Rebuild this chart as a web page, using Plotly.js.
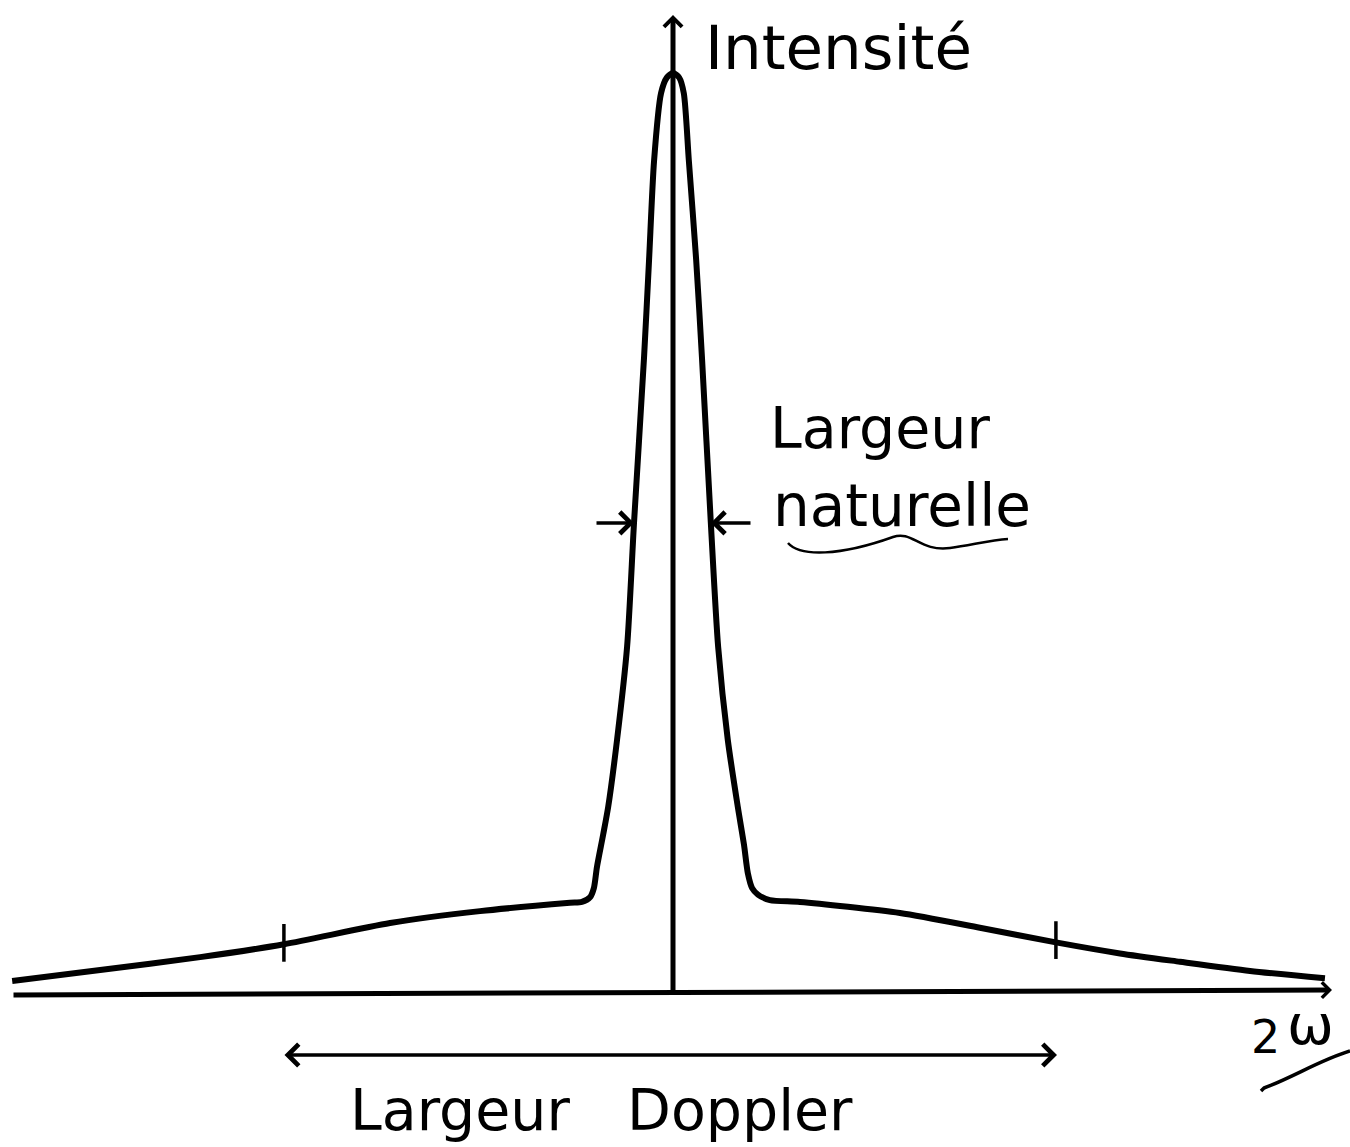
<!DOCTYPE html>
<html>
<head>
<meta charset="utf-8">
<script src="https://cdn.plot.ly/plotly-3.0.1.min.js"></script>
<style>html,body{margin:0;padding:0;background:#fff;}#chart{width:1350px;height:1147px;}</style>
</head>
<body>
<div id="chart"></div>
<script>
// Spectral line profile: frequency offset (units of Doppler half-width) vs normalised intensity
const freq = [-1.712, -1.484, -1.225, -1.008, -0.733, -0.500, -0.267, -0.236, -0.215, -0.205, -0.197, -0.181, -0.168, -0.145, -0.119, -0.101, -0.075, -0.062, -0.049, -0.031, -0.016, 0.000,
              0.016, 0.028, 0.041, 0.060, 0.075, 0.098, 0.117, 0.142, 0.168, 0.184, 0.194, 0.205, 0.220, 0.251, 0.329, 0.588, 0.795, 0.992, 1.158, 1.313, 1.495, 1.689];
const intensity = [0.013, 0.025, 0.039, 0.053, 0.076, 0.089, 0.098, 0.099, 0.104, 0.114, 0.137, 0.172, 0.202, 0.275, 0.376, 0.511, 0.691, 0.797, 0.905, 0.978, 0.995, 1.000,
                   0.995, 0.978, 0.905, 0.797, 0.691, 0.511, 0.376, 0.275, 0.202, 0.161, 0.130, 0.114, 0.107, 0.101, 0.099, 0.087, 0.071, 0.055, 0.043, 0.034, 0.024, 0.016];
const dopplerTicks = [-1.008, 0.992];        // Doppler width markers on the wings
const dopplerTickLevel = [0.053, 0.056];     // curve level at those markers
const naturalHalfLeft = -0.101, naturalHalfRight = 0.098, halfMax = 0.511; // natural width at half maximum

const labels = {
  yTitle: 'Intensité',
  natural1: 'Largeur',
  natural2: 'naturelle',
  doppler1: 'Largeur',
  doppler2: 'Doppler',
  xTitle2: '2',
  xTitleW: 'ω'
};

// pixel helpers for decorations (page is 1350 x 1147, plot fills page)
const W = 1350, H = 1147;
const X = p => (p - 673) / 386;
const Y = p => (993 - p) / 920;
const PX = p => p / W;
const PY = p => 1 - p / H;

const font = 'DejaVu Sans, Liberation Sans, sans-serif';

const traces = [{
  x: freq, y: intensity, type: 'scatter', mode: 'lines',
  line: {color: '#000', width: 6, shape: 'spline', smoothing: 0.7},
  hoverinfo: 'skip'
}];

const shapes = [];
dopplerTicks.forEach((t, i) => {
  shapes.push({type: 'line', xref: 'x', yref: 'y', x0: t, x1: t,
    y0: dopplerTickLevel[i] - 0.019, y1: dopplerTickLevel[i] + 0.022,
    line: {color: '#000', width: 3.5}});
});
// wavy underline under "naturelle"
shapes.push({type: 'path', xref: 'paper', yref: 'paper',
  path: `M${PX(788)},${PY(543)} C${PX(800)},${PY(557)} ${PX(840)},${PY(556)} ${PX(893)},${PY(537)} C${PX(912)},${PY(530)} ${PX(920)},${PY(552)} ${PX(950)},${PY(548)} C${PX(972)},${PY(545)} ${PX(990)},${PY(540)} ${PX(1008)},${PY(539)}`,
  line: {color: '#000', width: 2.5}});
// stroke under 2ω
shapes.push({type: 'path', xref: 'paper', yref: 'paper',
  path: `M${PX(1261)},${PY(1091)} L${PX(1264)},${PY(1088)} C${PX(1292)},${PY(1078)} ${PX(1320)},${PY(1060)} ${PX(1350)},${PY(1051)}`,
  line: {color: '#000', width: 3.5}});

const arrowBase = {text: '', showarrow: true, xref: 'x', yref: 'y', axref: 'x', ayref: 'y', arrowcolor: '#000', arrowhead: 4};
const annotations = [
  // horizontal axis
  Object.assign({}, arrowBase, {x: X(1332), y: Y(990), ax: X(12), ay: Y(995), arrowwidth: 5, arrowsize: 0.6}),
  // vertical axis
  Object.assign({}, arrowBase, {x: 0, y: Y(15), ax: 0, ay: Y(996), arrowwidth: 5, arrowsize: 0.7}),
  // natural width arrows
  Object.assign({}, arrowBase, {x: naturalHalfLeft, y: halfMax, ax: X(595), ay: halfMax, arrowwidth: 3.5, arrowsize: 1.2}),
  Object.assign({}, arrowBase, {x: naturalHalfRight, y: halfMax, ax: X(752), ay: halfMax, arrowwidth: 3.5, arrowsize: 1.2}),
  // Doppler width double arrow
  Object.assign({}, arrowBase, {x: X(1057), y: Y(1055), ax: X(283), ay: Y(1055), arrowwidth: 3.5, arrowsize: 1.2, arrowside: 'end+start'}),
];

function txt(t, x, y, size, anchor) {
  return {text: t, xref: 'paper', yref: 'paper', x: PX(x), y: PY(y), xanchor: anchor || 'left', yanchor: 'middle',
    showarrow: false, font: {family: font, size: size, color: '#000'}};
}
annotations.push(txt(labels.yTitle, 703, 47, 61));
annotations.push(txt(labels.natural1, 768, 428, 57));
annotations.push(txt(labels.natural2, 771, 506, 58));
annotations.push(txt(labels.doppler1, 460, 1110, 57, 'center'));
annotations.push(txt(labels.doppler2, 740, 1110, 57, 'center'));
annotations.push(txt(labels.xTitle2, 1265, 1037, 46, 'center'));
annotations.push(txt(labels.xTitleW, 1310, 1024, 56, 'center'));

const layout = {
  width: W, height: H,
  margin: {l: 0, r: 0, t: 0, b: 0, pad: 0},
  paper_bgcolor: '#fff', plot_bgcolor: '#fff',
  showlegend: false,
  xaxis: {range: [X(0), X(W)], visible: false, fixedrange: true},
  yaxis: {range: [Y(H), Y(0)], visible: false, fixedrange: true},
  shapes: shapes,
  annotations: annotations
};

Plotly.newPlot('chart', traces, layout, {staticPlot: true, displayModeBar: false});
</script>
</body>
</html>
